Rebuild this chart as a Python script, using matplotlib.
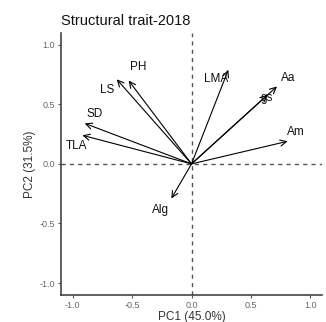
import matplotlib
matplotlib.use("Agg")
import matplotlib.pyplot as plt

# PCA loadings (arrow tips) and label positions
traits = ["PH", "LS", "SD", "TLA", "Am", "Alg", "LMA", "Aa", "gs"]
pc1 = [-0.53, -0.63, -0.90, -0.92, 0.81, -0.17, 0.31, 0.72, 0.64]
pc2 = [0.70, 0.71, 0.34, 0.24, 0.19, -0.29, 0.79, 0.65, 0.58]
label_x = [-0.45, -0.71, -0.82, -0.97, 0.88, -0.26, 0.21, 0.81, 0.63]
label_y = [0.81, 0.62, 0.42, 0.15, 0.27, -0.39, 0.71, 0.72, 0.55]

ticks = [-1.0, -0.5, 0.0, 0.5, 1.0]
tick_labels = ["-1.0", "-0.5", "0.0", "0.5", "1.0"]

plt.rcParams["font.family"] = ["Liberation Sans", "DejaVu Sans"]

fig = plt.figure(figsize=(3.26, 3.22), dpi=100)
ax = fig.add_axes([0.187, 0.084, 0.801, 0.814])

ax.axhline(0, color="#555555", lw=1.0, ls=(0, (3, 3)), zorder=1)
ax.axvline(0, color="#555555", lw=1.0, ls=(0, (3, 3)), zorder=1)

for name, x, y, lx, ly in zip(traits, pc1, pc2, label_x, label_y):
    ax.annotate("", xy=(x, y), xytext=(0, 0),
                arrowprops=dict(arrowstyle="->,head_length=0.45,head_width=0.22",
                                color="black", lw=0.8, shrinkA=0, shrinkB=0),
                zorder=3)
    ax.text(lx, ly, name, ha="center", va="center", fontsize=8.5, color="#111111", zorder=4)

ax.set_xlim(-1.1, 1.1)
ax.set_ylim(-1.1, 1.1)
ax.set_xticks(ticks)
ax.set_xticklabels(tick_labels)
ax.set_yticks(ticks)
ax.set_yticklabels(tick_labels)
ax.tick_params(labelsize=6.5, colors="#555555", length=2.5, width=0.8, pad=2)
for lab in ax.get_xticklabels() + ax.get_yticklabels():
    lab.set_color("#666666")

for side in ("top", "right"):
    ax.spines[side].set_visible(False)
for side in ("left", "bottom"):
    ax.spines[side].set_color("#444444")
    ax.spines[side].set_linewidth(1.2)

ax.set_xlabel("PC1 (45.0%)", fontsize=8.5, color="#333333", labelpad=0.5)
ax.set_ylabel("PC2 (31.5%)", fontsize=8.5, color="#333333", labelpad=2)
ax.set_title("Structural trait-2018", fontsize=10.5, loc="left", pad=6, color="#111111")

fig.savefig("out.png", dpi=100)
